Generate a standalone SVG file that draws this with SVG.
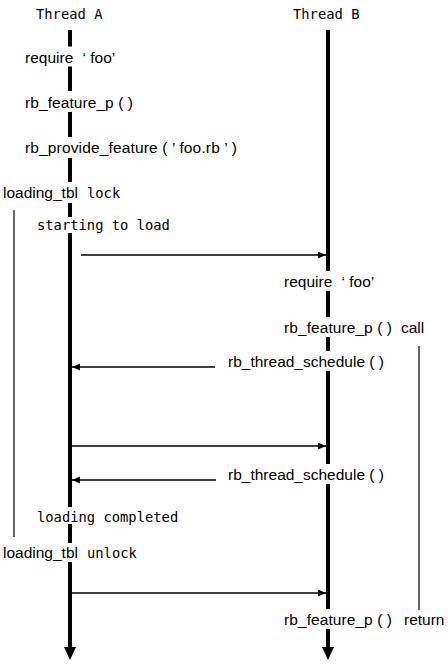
<svg xmlns="http://www.w3.org/2000/svg" width="448" height="664" viewBox="0 0 448 664">
<style>
.sans{font-family:"Liberation Sans",Arial,sans-serif;font-size:15.5px;fill:#000}
.mono{font-family:"DejaVu Sans Mono","Liberation Mono",monospace;font-size:13.8px;fill:#000}
.life{stroke:#000;stroke-width:4;fill:none}
.msg{stroke:#000;stroke-width:1.3;fill:none}
.brk{stroke:#000;stroke-width:1.2;fill:none}
</style>
<defs>
<marker id="ah" markerUnits="userSpaceOnUse" markerWidth="9" markerHeight="8" refX="8" refY="3.5" orient="auto">
<path d="M0,0 L8,3.5 L0,7 Z" fill="#000"/>
</marker>
</defs>
<rect width="448" height="664" fill="#fff"/>
<g id="thread-a">
<text class="mono" x="36" y="19">Thread A</text>
<path class="life" d="M70,30V46.5 M70,66.5V91 M70,112V137 M70,158V182 M70,203V217 M70,233V507 M70,524V543 M70,562V648"/>
<polygon points="64,647 76,647 70,660" fill="#000"/>
</g>
<g id="thread-b">
<text class="mono" x="293" y="19">Thread B</text>
<path class="life" d="M328,30V271 M328,291V317 M328,337V351 M328,371V464 M328,484V609 M328,629V648"/>
<polygon points="322,647 334,647 328,660" fill="#000"/>
</g>
<g id="a-require"><text class="sans" x="25" y="63">require <tspan dx="5">‘ foo’</tspan></text></g>
<g id="a-feature"><text class="sans" x="25" y="108" textLength="108">rb_feature_p ( )</text></g>
<g id="a-provide"><text class="sans" x="25" y="153" textLength="212">rb_provide_feature ( ’ foo.rb ’ )</text></g>
<g id="a-lock"><text class="sans" x="3" y="198">loading_tbl</text><text class="mono" x="87" y="198">lock</text></g>
<g id="a-start"><text class="mono" x="37" y="230">starting to load</text></g>
<g id="b-require"><text class="sans" x="284" y="287">require <tspan dx="5">‘ foo’</tspan></text></g>
<g id="b-feature-call"><text class="sans" x="284" y="333" textLength="108">rb_feature_p ( )</text><text class="sans" x="401" y="333">call</text></g>
<g id="b-schedule-1"><text class="sans" x="228" y="367" textLength="156">rb_thread_schedule ( )</text></g>
<g id="b-schedule-2"><text class="sans" x="228" y="480" textLength="156">rb_thread_schedule ( )</text></g>
<g id="a-completed"><text class="mono" x="37" y="522">loading completed</text></g>
<g id="a-unlock"><text class="sans" x="3" y="558">loading_tbl</text><text class="mono" x="87" y="558">unlock</text></g>
<g id="b-feature-return"><text class="sans" x="284" y="625" textLength="108">rb_feature_p ( )</text><text class="sans" x="404" y="625">return</text></g>
<g id="connectors">
<line class="msg" x1="81" y1="255" x2="326" y2="255" marker-end="url(#ah)"/>
<line class="msg" x1="215" y1="367" x2="72" y2="367" marker-end="url(#ah)"/>
<line class="msg" x1="72" y1="446" x2="326" y2="446" marker-end="url(#ah)"/>
<line class="msg" x1="216" y1="480" x2="72" y2="480" marker-end="url(#ah)"/>
<line class="msg" x1="72" y1="593" x2="326" y2="593" marker-end="url(#ah)"/>
<line class="brk" x1="14" y1="210" x2="14" y2="537"/>
<line class="brk" x1="419" y1="346" x2="419" y2="610"/>
</g>
</svg>
